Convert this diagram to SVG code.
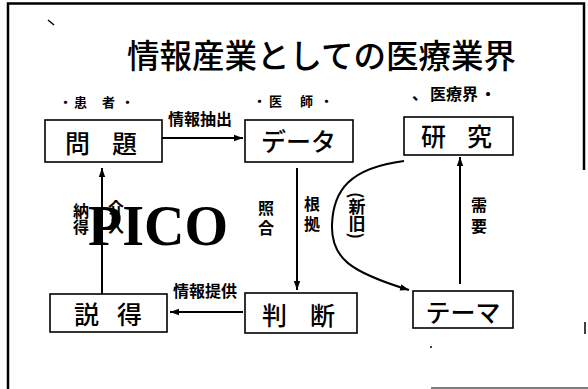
<svg xmlns="http://www.w3.org/2000/svg" width="588" height="389" viewBox="0 0 588 389">
<defs>
<marker id="ah" markerUnits="userSpaceOnUse" markerWidth="10" markerHeight="8" refX="9" refY="4" orient="auto">
<path d="M0,0.8 L9,4 L0,7.2 Z" fill="#000"/>
</marker>
<style>
.frame{fill:none;stroke:#000;stroke-width:2.5}
.box{fill:#fff;stroke:#000;stroke-width:1.6}
.cn{fill:none;stroke:#000;stroke-width:2;marker-end:url(#ah)}
.jp{font-family:"Noto Sans CJK JP","Noto Sans CJK SC",sans-serif;fill:#000}
.bx{font-size:25px;font-weight:500}
.lb{font-size:16px;font-weight:700}
.sm{font-size:13px;font-weight:700}
.vt{font-size:16px;font-weight:700;text-anchor:middle}
</style>
</defs>
<rect width="588" height="389" fill="#fff"/>
<g id="frame">
<path class="frame" d="M8,389 L8,3.5 L584,3.5 L584,170"/>
<path d="M585,322 L585,334" stroke="#000" stroke-width="1.5"/>
<path d="M431,388 L588,388" stroke="#555" stroke-width="1.5"/>
<path d="M48,20 L54,25" stroke="#000" stroke-width="1.5"/>
<circle cx="431" cy="347" r="1" fill="#000"/>
</g>
<g id="title">
<text class="jp" x="127" y="68" font-size="32.5" font-weight="500">情報産業としての医療業界</text>
</g>
<g id="headers">
<text class="jp sm" x="59 74 89 102 121" y="107">・患 者・</text>
<text class="jp sm" x="253 269 285 300 320" y="106">・医 師・</text>
<text class="jp lb" x="412 430 446 462 480" y="100" font-size="15.5">、医療界・</text>
</g>
<g id="connectors">
<line class="cn" x1="162" y1="138" x2="243" y2="138"/>
<line class="cn" x1="297" y1="168" x2="297" y2="290"/>
<line class="cn" x1="243" y1="312" x2="170" y2="312"/>
<line class="cn" x1="102" y1="294" x2="102" y2="168"/>
<line class="cn" x1="460" y1="284" x2="460" y2="157"/>
<path class="cn" d="M404,161 C350,168 333,190 332,225 C331,258 350,272 409,290"/>
</g>
<g id="edge-labels">
<text class="jp lb" x="168" y="125">情報抽出</text>
<text class="jp lb" x="173" y="297">情報提供</text>
<text class="jp vt" x="266 266" y="214 234">照合</text>
<text class="jp vt" x="312 312" y="210 230" font-size="17">根拠</text>
<text class="jp" x="357" y="192" font-size="17" font-weight="700" style="writing-mode:vertical-rl">(新旧)</text>
<text class="jp vt" x="479 479" y="211 232" font-size="18">需要</text>
<text class="jp vt" x="81 81" y="217 233" font-size="14">納得</text>
<text class="jp vt" x="116 116" y="214 232" font-size="14">介入</text>
</g>
<g id="n-mondai">
<rect class="box" x="45" y="120" width="117" height="42"/>
<text class="jp bx" x="65 89 112" y="153" font-size="24">問 題</text>
</g>
<g id="n-data">
<rect class="box" x="245" y="120" width="108" height="42"/>
<text class="jp bx" x="298.5" y="151" text-anchor="middle" font-size="26">データ</text>
</g>
<g id="n-kenkyu">
<rect class="box" x="404" y="117" width="109" height="38"/>
<text class="jp bx" x="421 444 467" y="146" font-size="23">研 究</text>
</g>
<g id="n-settoku">
<rect class="box" x="50" y="294" width="117" height="38"/>
<text class="jp bx" x="74 100 117" y="324" font-size="26">説 得</text>
</g>
<g id="n-handan">
<rect class="box" x="245" y="293" width="112" height="40"/>
<text class="jp bx" x="262 288 310" y="325" font-size="26">判 断</text>
</g>
<g id="n-theme">
<rect class="box" x="413" y="291" width="100" height="37"/>
<text class="jp bx" x="463" y="322" text-anchor="middle" font-size="25">テーマ</text>
</g>
<g id="pico">
<text x="88" y="245" font-family="'Liberation Serif',serif" font-weight="700" font-size="56">PICO</text>
</g>
</svg>
